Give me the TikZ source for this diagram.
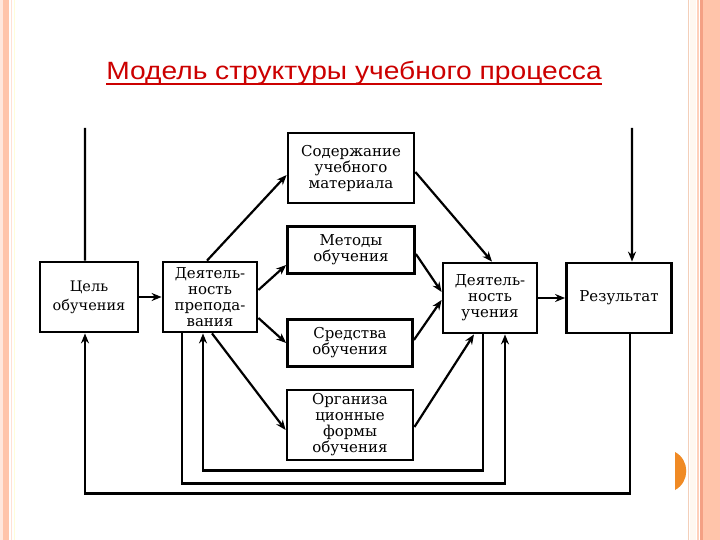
\documentclass[tikz,border=0pt]{standalone}
\usepackage{fontspec}
\setmainfont{Liberation Serif}
\newfontfamily\titlefont{Liberation Sans}
\newfontfamily\boxfont{DejaVu Serif}
\usetikzlibrary{arrows.meta}
\definecolor{salmon}{HTML}{FFC4AA}
\definecolor{salmondk}{HTML}{F4A084}
\definecolor{titlered}{HTML}{CC0000}
\definecolor{tabor}{HTML}{F08A24}
\tikzset{
  blk/.style={draw=black, line width=2.8bp, fill=white, align=center, inner sep=1bp,
    font=\boxfont\fontsize{15bp}{16bp}\selectfont},
  con/.style={line width=2.2bp, draw=black},
  arr/.style={con, -{Stealth[length=10bp,width=8bp]}}
}
\begin{document}
\begin{tikzpicture}[x=1bp,y=-1bp]
\useasboundingbox (0,0) rectangle (720,540);
\fill[white] (0,0) rectangle (720,540);
% slide borders
\fill[salmon!40] (0,0) rectangle (3,540);
\fill[salmon] (3,0) rectangle (9,540);
\fill[salmon!50] (11,0) rectangle (12,540);
\fill[yellow!15] (14,0) rectangle (15,540);
\fill[salmon!70!brown!60] (688,0) rectangle (689,540);
\fill[orange!6] (690,0) rectangle (696,540);
\fill[salmon!80] (697,0) rectangle (699,540);
\fill[salmondk] (700,0) rectangle (703,540);
\fill[salmon] (703,0) rectangle (720,540);
% orange tab
\fill[tabor] (675,452) .. controls (690,460) and (690,482) .. (675,490) -- cycle;
% title
\node[anchor=base, font=\titlefont\fontsize{25bp}{28bp}\selectfont, text=titlered, inner sep=0] (title) at (354,80) {\scalebox{1.127}[1]{Модель структуры учебного процесса}};
\draw[titlered, line width=1.3bp] (106,84) -- (602,84);
% boxes
\node[blk, minimum width=98bp, minimum height=70bp, font=\boxfont\fontsize{14.5bp}{19bp}\selectfont] (goal) at (89,297) {Цель\\обучения};
\node[blk, minimum width=94bp, minimum height=70bp] (teach) at (210,297) {Деятель-\\ность\\препода-\\вания};
\node[blk, minimum width=126bp, minimum height=70bp] (content) at (351,168) {Содержание\\учебного\\материала};
\node[blk, minimum width=127bp, minimum height=47bp] (methods) at (351,250) {Методы\\обучения};
\node[blk, minimum width=125bp, minimum height=47bp] (means) at (350,343) {Средства\\обучения};
\node[blk, minimum width=126bp, minimum height=70bp] (forms) at (350,425) {Организа\\ционные\\формы\\обучения};
\node[blk, minimum width=94bp, minimum height=70bp] (learn) at (490,298) {Деятель-\\ность\\учения};
\node[blk, minimum width=105bp, minimum height=70bp] (result) at (619,298) {Результат};
% inputs from top
\coordinate (topL) at (85,128);
\coordinate (topR) at (632,128);
\draw[con] (topL) -- ([xshift=-4bp]goal.north);
\draw[arr] (topR) -- ([xshift=13bp]result.north);
% horizontal
\draw[arr] (goal) -- (teach);
\draw[arr] (learn) -- (result);
% fan out
\draw[arr] ([xshift=-3bp]teach.north) -- ([yshift=-7bp]content.west);
\draw[arr] ([yshift=7bp]teach.east) -- ([yshift=-15bp]methods.west);
\draw[arr] ([yshift=-21bp]teach.east) -- (means.west);
\draw[arr] ([xshift=2bp]teach.south) -- ([yshift=-5bp]forms.west);
% fan in
\draw[arr] ([yshift=-4bp]content.east) -- ([xshift=2bp]learn.north);
\draw[arr] ([yshift=-4bp]methods.east) -- ([yshift=6bp]learn.west);
\draw[arr] ([yshift=3bp]means.east) -- ([yshift=-2bp]learn.west);
\draw[arr] ([yshift=-2bp]forms.east) -- ([xshift=-16bp]learn.south);
% feedback loops
\draw[arr] ([xshift=-7bp]learn.south) -- ++(0,136) -| ([xshift=-7bp]teach.south);
\draw[arr] ([xshift=-28bp]teach.south) -- ++(0,150) -| ([xshift=15bp]learn.south);
\draw[arr] ([xshift=11bp]result.south) -- ++(0,159) -| ([xshift=-4bp]goal.south);
\end{tikzpicture}
\end{document}
